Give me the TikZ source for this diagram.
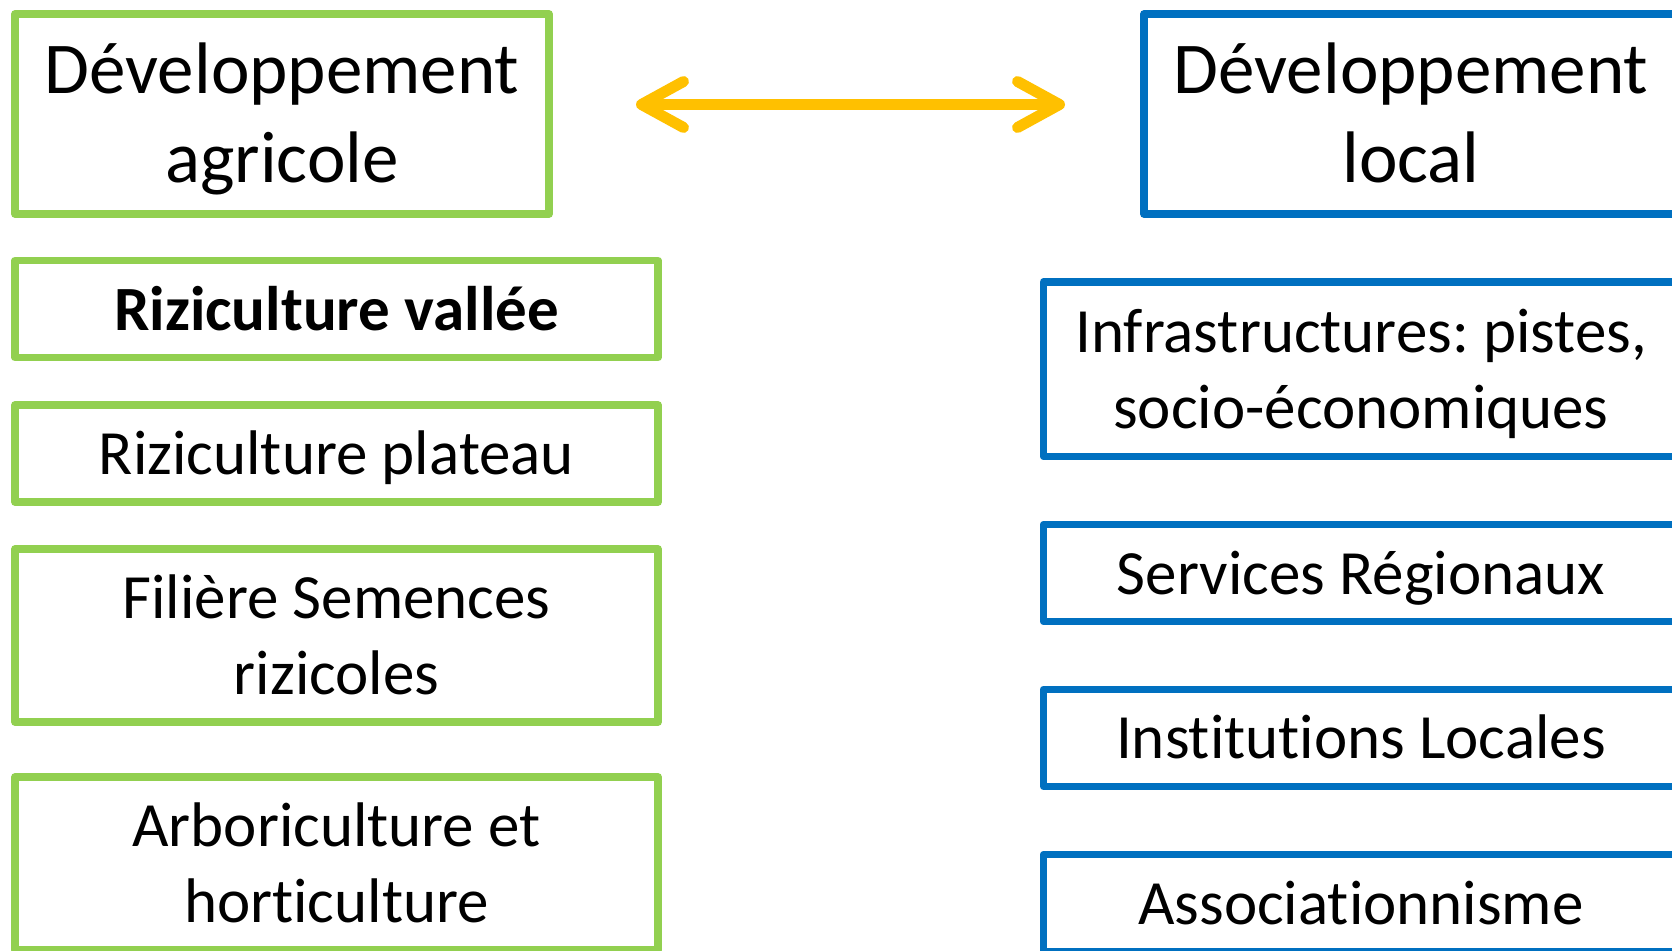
\documentclass[tikz,border=0pt]{standalone}
\usepackage{fontspec}
\setmainfont{Carlito}[Ligatures=NoCommon]
\usetikzlibrary{arrows.meta}
\definecolor{agrigreen}{HTML}{92D050}
\definecolor{locblue}{HTML}{0070C0}
\definecolor{arrowgold}{HTML}{FFC000}
\newcommand{\bigtop}{\rule{0pt}{70pt}}
\newcommand{\bigbot}{\rule[-22pt]{0pt}{22pt}}
\newcommand{\smtop}{\rule{0pt}{65pt}}
\newcommand{\smbot}{\rule[-23pt]{0pt}{23pt}}
\frenchspacing
\begin{document}
\begin{tikzpicture}[x=1pt,y=-1pt,
  box/.style={draw, line width=7.5pt, line join=round, inner sep=0pt, align=center},
  agribox/.style={box, draw=agrigreen},
  locbox/.style={box, draw=locblue},
  bigtext/.style={font=\fontsize{73}{89.5}\selectfont},
  smalltext/.style={font=\fontsize{63}{76}\selectfont},
  headsize/.style={minimum width=534pt, minimum height=200pt},
  leftsize/.style={minimum width=643pt},
  rightsize/.style={minimum width=635pt},
  gold/.style={arrowgold, line width=11pt,
    {Straight Barb[round, length=42pt, width=46pt]}-{Straight Barb[round, length=42pt, width=46pt]}}
]
\useasboundingbox (0,0) rectangle (1672,950);
% headers
\node[agribox, bigtext, headsize] (agri) at (282,114) {\bigtop Développement\\agricole\bigbot};
\node[locbox, bigtext, headsize] (local) at (1411,114) {\bigtop Développement\\local\bigbot};
% left column
\node[agribox, smalltext, leftsize, minimum height=97pt] (vallee) at (336.5,309) {\smtop\textbf{Riziculture vallée}\smbot};
\node[agribox, smalltext, leftsize, minimum height=97pt] (plateau) at (336.5,453.5) {\smtop Riziculture plateau\smbot};
\node[agribox, smalltext, leftsize, minimum height=173pt] (filiere) at (336.5,635.5) {\smtop Filière Semences\\rizicoles\smbot};
\node[agribox, smalltext, leftsize, minimum height=173pt] (arbo) at (336.5,863.5) {\smtop Arboriculture et\\horticulture\smbot};
% right column
\node[locbox, smalltext, rightsize, minimum height=174.5pt] (infra) at (1361,369.25) {\smtop Infrastructures: pistes,\\socio-économiques\smbot};
\node[locbox, smalltext, rightsize, minimum height=97pt] (services) at (1361,573) {\smtop Services Régionaux\smbot};
\node[locbox, smalltext, rightsize, minimum height=97pt] (instit) at (1361,737.75) {\smtop Institutions Locales\smbot};
\node[locbox, smalltext, rightsize, minimum height=97pt] (assoc) at (1361,903) {\smtop Associationnisme\smbot};
% double arrow
\coordinate (al) at (636,104.5);
\coordinate (ar) at (1065,104.5);
\draw[gold] (al) -- (ar);
\end{tikzpicture}
\end{document}
